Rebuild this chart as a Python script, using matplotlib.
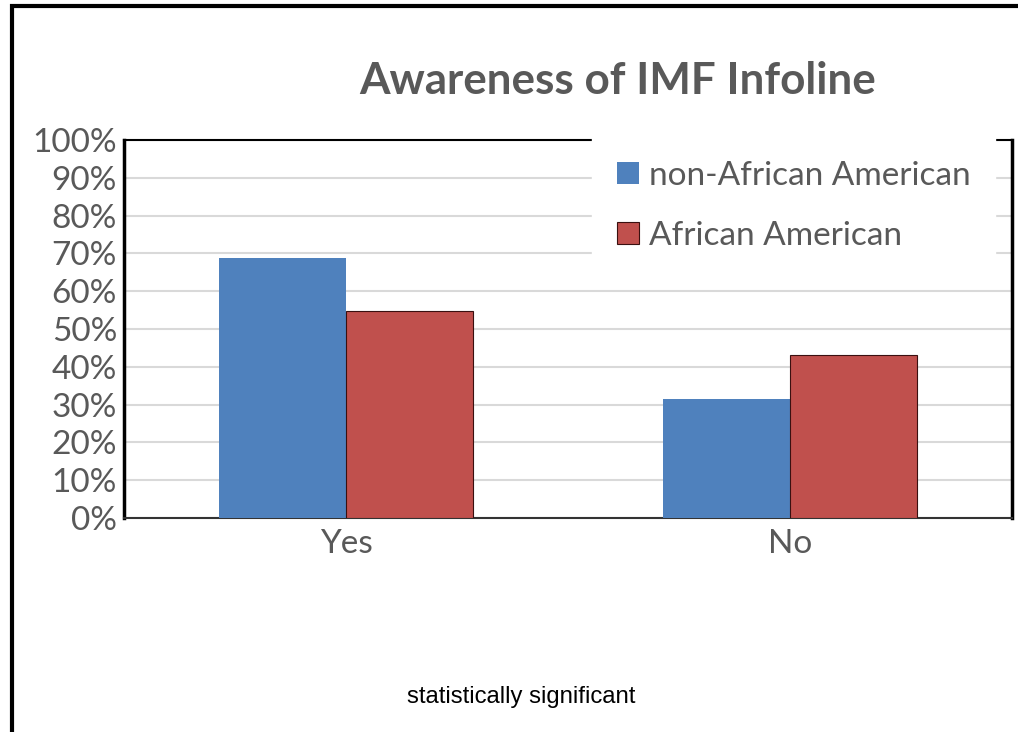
import matplotlib.pyplot as plt
import matplotlib.patches as patches
import numpy as np

categories = ["Yes", "No"]
series_names = ["non-African American", "African American"]
non_aa = [0.688, 0.315]
aa = [0.548, 0.431]
yticks = np.arange(0, 1.01, 0.1)

blue = "#4F81BD"
red = "#C0504D"
grey = "#595959"

plt.rcParams['font.family'] = ['Lato', 'DejaVu Sans']

fig = plt.figure(figsize=(10.18, 7.32), dpi=100)
ax = fig.add_axes([124 / 1018, 1 - 518 / 732, (1012 - 124) / 1018, (518 - 140) / 732])

x = np.arange(len(categories))
w = 0.287
ax.bar(x - w / 2, non_aa, w, color=blue, label=series_names[0], zorder=3)
ax.bar(x + w / 2, aa, w, color=red, edgecolor="#3a1010", linewidth=0.8,
       label=series_names[1], zorder=3)

ax.set_xlim(-0.5, 1.5)
ax.set_ylim(0, 1)
ax.set_yticks(yticks)
ax.set_yticklabels([f"{int(round(v * 100))}%" for v in yticks])
ax.set_xticks(x)
ax.set_xticklabels(categories)
ax.tick_params(axis="both", length=0, labelsize=24, colors=grey)
ax.tick_params(axis="y", pad=5)
ax.tick_params(axis="x", pad=8)
ax.grid(axis="y", color="#d9d9d9", linewidth=1.5, zorder=0)
ax.set_axisbelow(True)
for side in ["left", "right"]:
    ax.spines[side].set_linewidth(2.5)
for side in ["top", "bottom"]:
    ax.spines[side].set_linewidth(1.5)
ax.spines["bottom"].set_color("#333333")

# legend box sits over the top spine, as in the original
leg = ax.legend(loc="upper left", bbox_to_anchor=(592 / 1018, 1 - 136 / 732),
                bbox_transform=fig.transFigure, fontsize=24, frameon=True,
                facecolor="white", edgecolor="white", framealpha=1,
                fancybox=False, handlelength=0.65, handleheight=0.65,
                handletextpad=0.3, labelspacing=0.9, borderpad=0.75,
                borderaxespad=0)
for t in leg.get_texts():
    t.set_color(grey)
leg.set_zorder(10)

fig.text(618 / 1018, 1 - 81 / 732, "Awareness of IMF Infoline", ha="center", va="center",
         fontsize=31.7, fontweight="bold", color=grey)
fig.text(521 / 1018, 1 - 697 / 732, "statistically significant", ha="center", va="center",
         fontsize=17.2, color="black", family=["Liberation Sans", "DejaVu Sans"])

# outer frame running off the right and bottom edges
fig.patches.append(patches.Rectangle((12 / 1018, -0.1), 1.2, 1 - 6 / 732 + 0.1,
                                     transform=fig.transFigure, fill=False,
                                     edgecolor="black", linewidth=3))

fig.savefig("out.png", dpi=100)
